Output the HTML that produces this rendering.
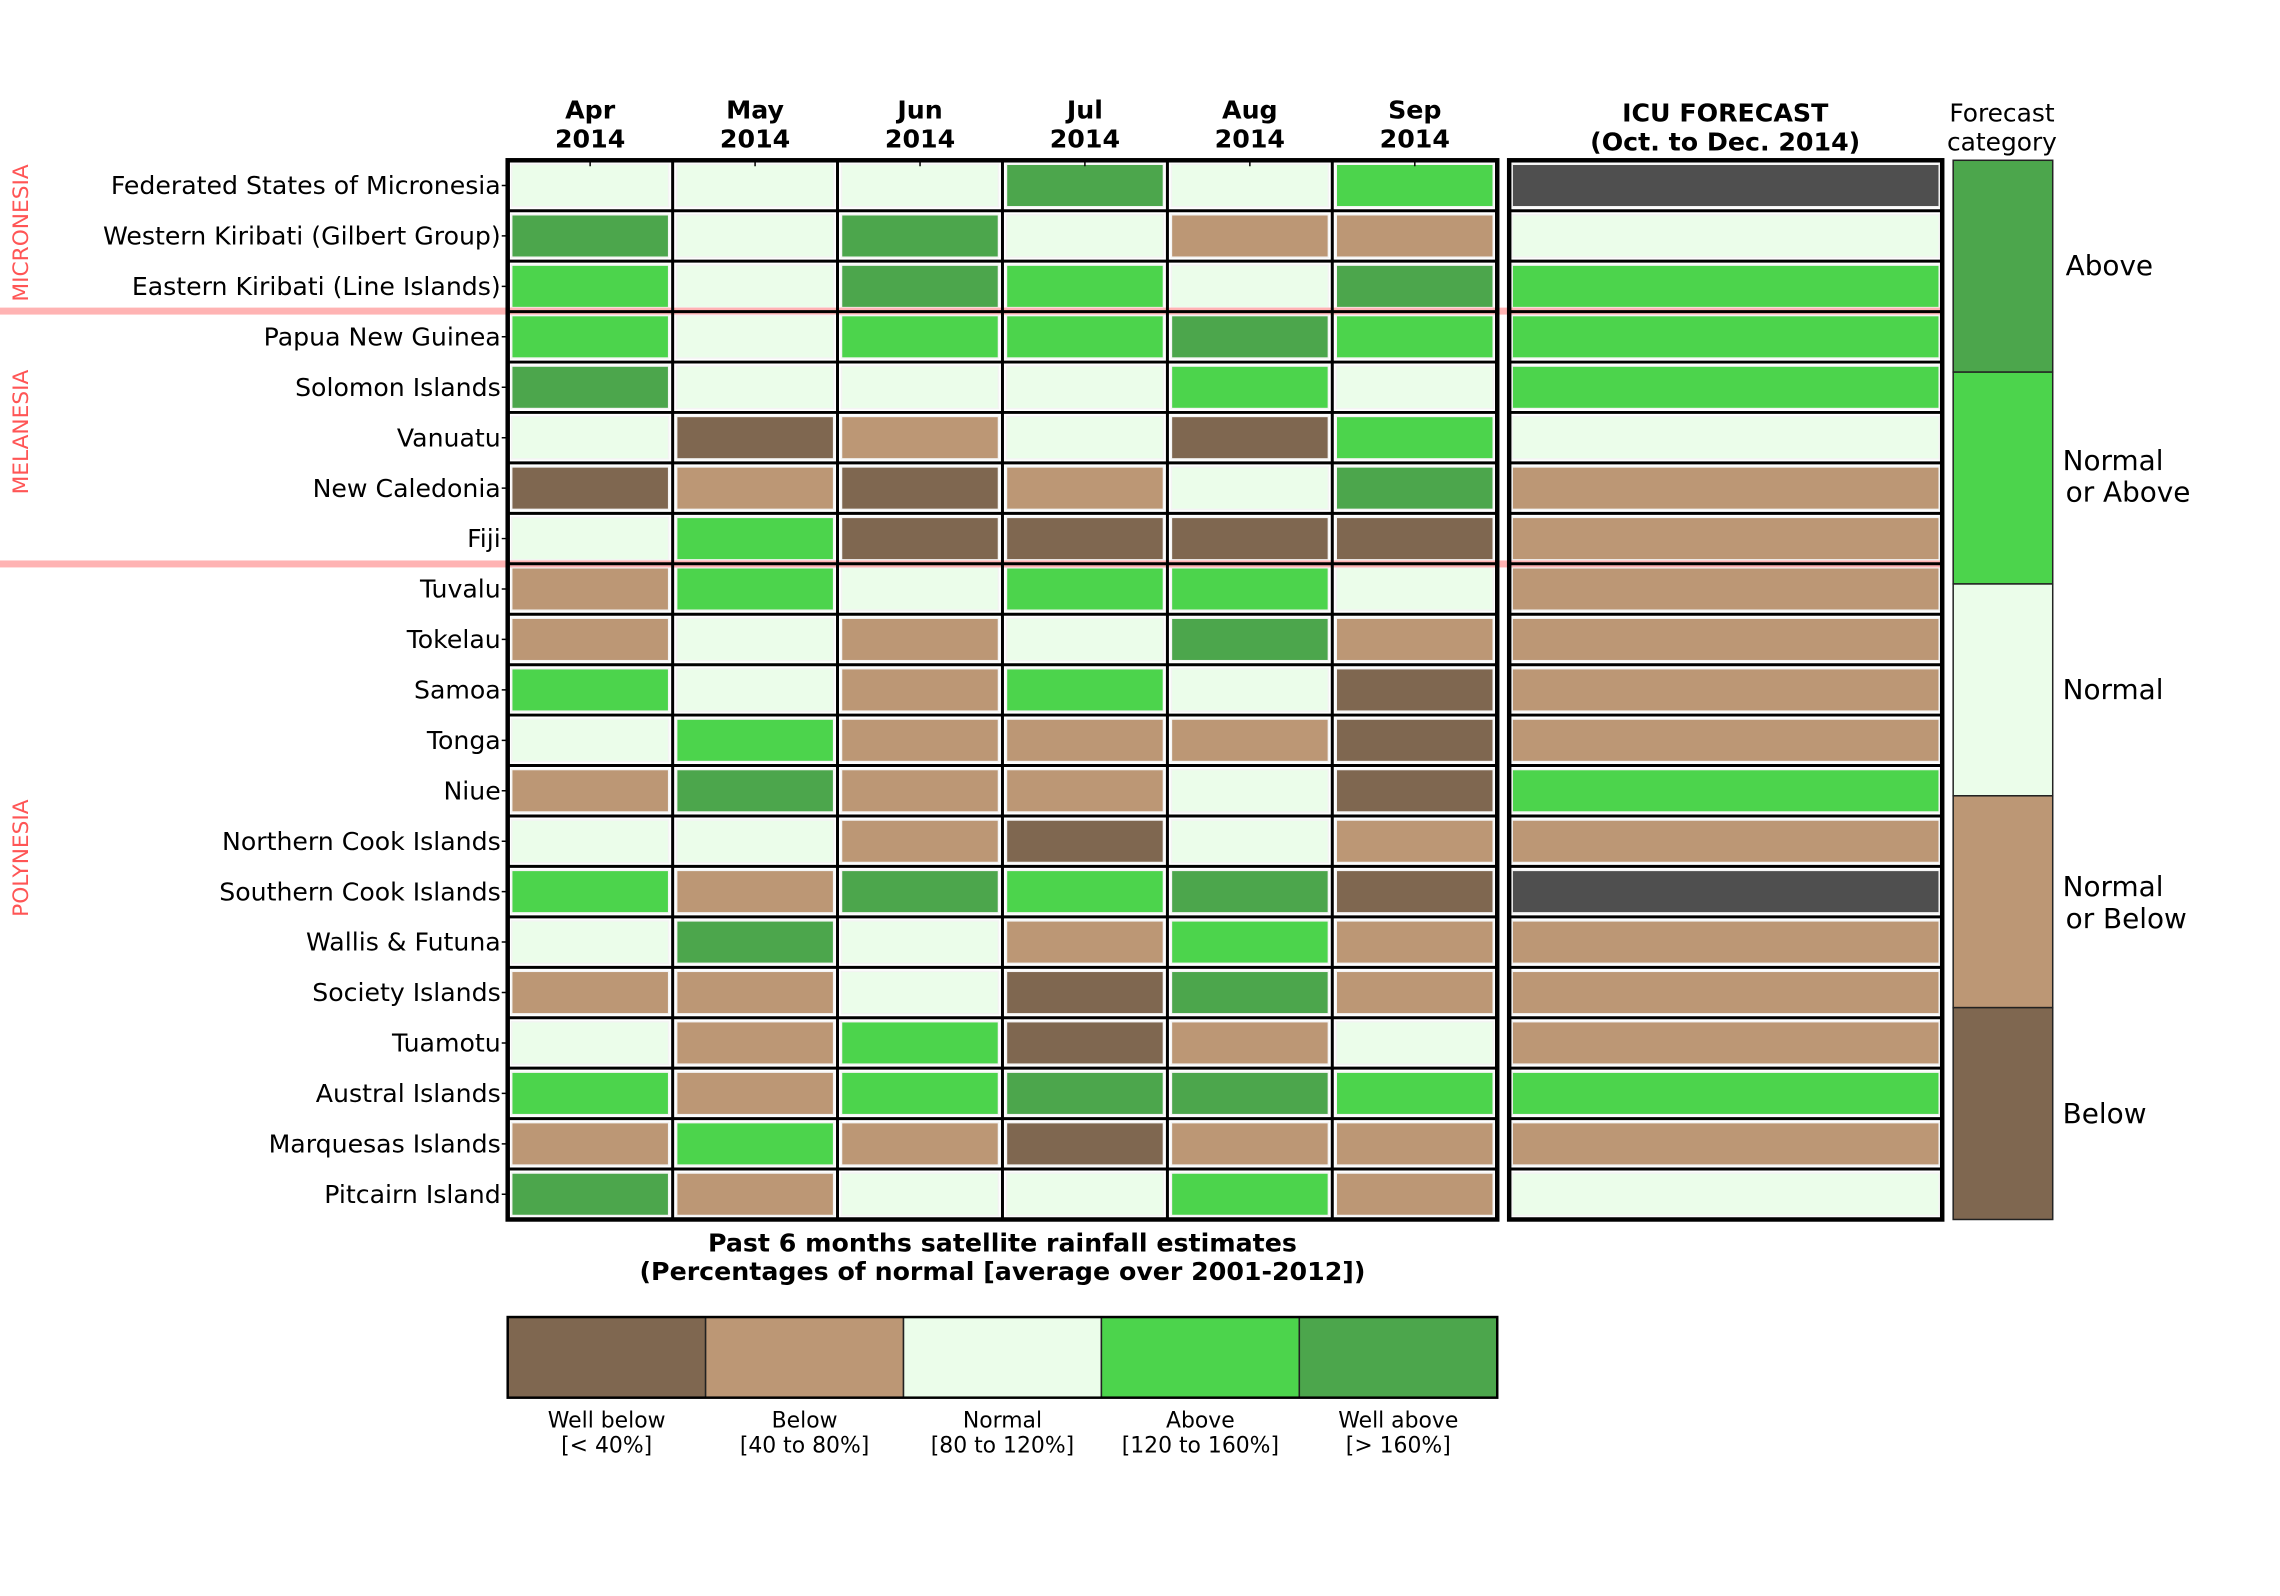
<!DOCTYPE html>
<html><head><style>
body{margin:0;background:#fff}
svg{display:block;font-family:"DejaVu Sans","Liberation Sans",sans-serif}
.W{fill:#7f6750}.B{fill:#bc9775}.N{fill:#ebfdea}.A{fill:#4cd44c}.V{fill:#4ca64c}.G{fill:#4f4f4f}
.c rect{stroke:#f4f4f4;stroke-width:1.5}
.lab{font-size:25.3px;text-anchor:end}
</style></head><body>
<svg width="2280" height="1596" viewBox="0 0 2280 1596" xmlns="http://www.w3.org/2000/svg">
<rect width="2280" height="1596" fill="#fff"/>
<g transform="scale(0.9955)">
<rect x="510" y="161" width="994" height="1064" fill="#fff"/>
<g class="c">
<g transform="translate(0,165)"><rect class="N" x="514" width="157.7" height="42.7"/><rect class="N" x="679.7" width="157.7" height="42.7"/><rect class="N" x="845.3" width="157.7" height="42.7"/><rect class="V" x="1011" width="157.7" height="42.7"/><rect class="N" x="1176.7" width="157.7" height="42.7"/><rect class="A" x="1342.3" width="157.7" height="42.7"/><rect class="G" x="1519" width="429" height="42.7"/></g>
<g transform="translate(0,215.7)"><rect class="V" x="514" width="157.7" height="42.7"/><rect class="N" x="679.7" width="157.7" height="42.7"/><rect class="V" x="845.3" width="157.7" height="42.7"/><rect class="N" x="1011" width="157.7" height="42.7"/><rect class="B" x="1176.7" width="157.7" height="42.7"/><rect class="B" x="1342.3" width="157.7" height="42.7"/><rect class="N" x="1519" width="429" height="42.7"/></g>
<g transform="translate(0,266.3)"><rect class="A" x="514" width="157.7" height="42.7"/><rect class="N" x="679.7" width="157.7" height="42.7"/><rect class="V" x="845.3" width="157.7" height="42.7"/><rect class="A" x="1011" width="157.7" height="42.7"/><rect class="N" x="1176.7" width="157.7" height="42.7"/><rect class="V" x="1342.3" width="157.7" height="42.7"/><rect class="A" x="1519" width="429" height="42.7"/></g>
<g transform="translate(0,317)"><rect class="A" x="514" width="157.7" height="42.7"/><rect class="N" x="679.7" width="157.7" height="42.7"/><rect class="A" x="845.3" width="157.7" height="42.7"/><rect class="A" x="1011" width="157.7" height="42.7"/><rect class="V" x="1176.7" width="157.7" height="42.7"/><rect class="A" x="1342.3" width="157.7" height="42.7"/><rect class="A" x="1519" width="429" height="42.7"/></g>
<g transform="translate(0,367.7)"><rect class="V" x="514" width="157.7" height="42.7"/><rect class="N" x="679.7" width="157.7" height="42.7"/><rect class="N" x="845.3" width="157.7" height="42.7"/><rect class="N" x="1011" width="157.7" height="42.7"/><rect class="A" x="1176.7" width="157.7" height="42.7"/><rect class="N" x="1342.3" width="157.7" height="42.7"/><rect class="A" x="1519" width="429" height="42.7"/></g>
<g transform="translate(0,418.3)"><rect class="N" x="514" width="157.7" height="42.7"/><rect class="W" x="679.7" width="157.7" height="42.7"/><rect class="B" x="845.3" width="157.7" height="42.7"/><rect class="N" x="1011" width="157.7" height="42.7"/><rect class="W" x="1176.7" width="157.7" height="42.7"/><rect class="A" x="1342.3" width="157.7" height="42.7"/><rect class="N" x="1519" width="429" height="42.7"/></g>
<g transform="translate(0,469)"><rect class="W" x="514" width="157.7" height="42.7"/><rect class="B" x="679.7" width="157.7" height="42.7"/><rect class="W" x="845.3" width="157.7" height="42.7"/><rect class="B" x="1011" width="157.7" height="42.7"/><rect class="N" x="1176.7" width="157.7" height="42.7"/><rect class="V" x="1342.3" width="157.7" height="42.7"/><rect class="B" x="1519" width="429" height="42.7"/></g>
<g transform="translate(0,519.7)"><rect class="N" x="514" width="157.7" height="42.7"/><rect class="A" x="679.7" width="157.7" height="42.7"/><rect class="W" x="845.3" width="157.7" height="42.7"/><rect class="W" x="1011" width="157.7" height="42.7"/><rect class="W" x="1176.7" width="157.7" height="42.7"/><rect class="W" x="1342.3" width="157.7" height="42.7"/><rect class="B" x="1519" width="429" height="42.7"/></g>
<g transform="translate(0,570.3)"><rect class="B" x="514" width="157.7" height="42.7"/><rect class="A" x="679.7" width="157.7" height="42.7"/><rect class="N" x="845.3" width="157.7" height="42.7"/><rect class="A" x="1011" width="157.7" height="42.7"/><rect class="A" x="1176.7" width="157.7" height="42.7"/><rect class="N" x="1342.3" width="157.7" height="42.7"/><rect class="B" x="1519" width="429" height="42.7"/></g>
<g transform="translate(0,621)"><rect class="B" x="514" width="157.7" height="42.7"/><rect class="N" x="679.7" width="157.7" height="42.7"/><rect class="B" x="845.3" width="157.7" height="42.7"/><rect class="N" x="1011" width="157.7" height="42.7"/><rect class="V" x="1176.7" width="157.7" height="42.7"/><rect class="B" x="1342.3" width="157.7" height="42.7"/><rect class="B" x="1519" width="429" height="42.7"/></g>
<g transform="translate(0,671.7)"><rect class="A" x="514" width="157.7" height="42.7"/><rect class="N" x="679.7" width="157.7" height="42.7"/><rect class="B" x="845.3" width="157.7" height="42.7"/><rect class="A" x="1011" width="157.7" height="42.7"/><rect class="N" x="1176.7" width="157.7" height="42.7"/><rect class="W" x="1342.3" width="157.7" height="42.7"/><rect class="B" x="1519" width="429" height="42.7"/></g>
<g transform="translate(0,722.3)"><rect class="N" x="514" width="157.7" height="42.7"/><rect class="A" x="679.7" width="157.7" height="42.7"/><rect class="B" x="845.3" width="157.7" height="42.7"/><rect class="B" x="1011" width="157.7" height="42.7"/><rect class="B" x="1176.7" width="157.7" height="42.7"/><rect class="W" x="1342.3" width="157.7" height="42.7"/><rect class="B" x="1519" width="429" height="42.7"/></g>
<g transform="translate(0,773)"><rect class="B" x="514" width="157.7" height="42.7"/><rect class="V" x="679.7" width="157.7" height="42.7"/><rect class="B" x="845.3" width="157.7" height="42.7"/><rect class="B" x="1011" width="157.7" height="42.7"/><rect class="N" x="1176.7" width="157.7" height="42.7"/><rect class="W" x="1342.3" width="157.7" height="42.7"/><rect class="A" x="1519" width="429" height="42.7"/></g>
<g transform="translate(0,823.7)"><rect class="N" x="514" width="157.7" height="42.7"/><rect class="N" x="679.7" width="157.7" height="42.7"/><rect class="B" x="845.3" width="157.7" height="42.7"/><rect class="W" x="1011" width="157.7" height="42.7"/><rect class="N" x="1176.7" width="157.7" height="42.7"/><rect class="B" x="1342.3" width="157.7" height="42.7"/><rect class="B" x="1519" width="429" height="42.7"/></g>
<g transform="translate(0,874.3)"><rect class="A" x="514" width="157.7" height="42.7"/><rect class="B" x="679.7" width="157.7" height="42.7"/><rect class="V" x="845.3" width="157.7" height="42.7"/><rect class="A" x="1011" width="157.7" height="42.7"/><rect class="V" x="1176.7" width="157.7" height="42.7"/><rect class="W" x="1342.3" width="157.7" height="42.7"/><rect class="G" x="1519" width="429" height="42.7"/></g>
<g transform="translate(0,925)"><rect class="N" x="514" width="157.7" height="42.7"/><rect class="V" x="679.7" width="157.7" height="42.7"/><rect class="N" x="845.3" width="157.7" height="42.7"/><rect class="B" x="1011" width="157.7" height="42.7"/><rect class="A" x="1176.7" width="157.7" height="42.7"/><rect class="B" x="1342.3" width="157.7" height="42.7"/><rect class="B" x="1519" width="429" height="42.7"/></g>
<g transform="translate(0,975.7)"><rect class="B" x="514" width="157.7" height="42.7"/><rect class="B" x="679.7" width="157.7" height="42.7"/><rect class="N" x="845.3" width="157.7" height="42.7"/><rect class="W" x="1011" width="157.7" height="42.7"/><rect class="V" x="1176.7" width="157.7" height="42.7"/><rect class="B" x="1342.3" width="157.7" height="42.7"/><rect class="B" x="1519" width="429" height="42.7"/></g>
<g transform="translate(0,1026.3)"><rect class="N" x="514" width="157.7" height="42.7"/><rect class="B" x="679.7" width="157.7" height="42.7"/><rect class="A" x="845.3" width="157.7" height="42.7"/><rect class="W" x="1011" width="157.7" height="42.7"/><rect class="B" x="1176.7" width="157.7" height="42.7"/><rect class="N" x="1342.3" width="157.7" height="42.7"/><rect class="B" x="1519" width="429" height="42.7"/></g>
<g transform="translate(0,1077)"><rect class="A" x="514" width="157.7" height="42.7"/><rect class="B" x="679.7" width="157.7" height="42.7"/><rect class="A" x="845.3" width="157.7" height="42.7"/><rect class="V" x="1011" width="157.7" height="42.7"/><rect class="V" x="1176.7" width="157.7" height="42.7"/><rect class="A" x="1342.3" width="157.7" height="42.7"/><rect class="A" x="1519" width="429" height="42.7"/></g>
<g transform="translate(0,1127.7)"><rect class="B" x="514" width="157.7" height="42.7"/><rect class="A" x="679.7" width="157.7" height="42.7"/><rect class="B" x="845.3" width="157.7" height="42.7"/><rect class="W" x="1011" width="157.7" height="42.7"/><rect class="B" x="1176.7" width="157.7" height="42.7"/><rect class="B" x="1342.3" width="157.7" height="42.7"/><rect class="B" x="1519" width="429" height="42.7"/></g>
<g transform="translate(0,1178.3)"><rect class="V" x="514" width="157.7" height="42.7"/><rect class="B" x="679.7" width="157.7" height="42.7"/><rect class="N" x="845.3" width="157.7" height="42.7"/><rect class="N" x="1011" width="157.7" height="42.7"/><rect class="A" x="1176.7" width="157.7" height="42.7"/><rect class="B" x="1342.3" width="157.7" height="42.7"/><rect class="N" x="1519" width="429" height="42.7"/></g>
</g>
<rect x="0" y="309" width="1953" height="7" fill="#ffb3b3"/>
<rect x="0" y="563" width="1953" height="7" fill="#ffb3b3"/>
<g stroke="#000" stroke-width="3" fill="none">
<path d="M510 211.7H1504M510 262.3H1504M510 313H1504M510 363.7H1504M510 414.3H1504M510 465H1504M510 515.7H1504M510 566.3H1504M510 617H1504M510 667.7H1504M510 718.3H1504M510 769H1504M510 819.7H1504M510 870.3H1504M510 921H1504M510 971.7H1504M510 1022.3H1504M510 1073H1504M510 1123.7H1504M510 1174.3H1504"/>
<path d="M1516 211.7H1951M1516 262.3H1951M1516 313H1951M1516 363.7H1951M1516 414.3H1951M1516 465H1951M1516 515.7H1951M1516 566.3H1951M1516 617H1951M1516 667.7H1951M1516 718.3H1951M1516 769H1951M1516 819.7H1951M1516 870.3H1951M1516 921H1951M1516 971.7H1951M1516 1022.3H1951M1516 1073H1951M1516 1123.7H1951M1516 1174.3H1951"/>
<path d="M675.7 161V1225M841.3 161V1225M1007 161V1225M1172.7 161V1225M1338.3 161V1225"/>
</g>
<g stroke="#000" stroke-width="4.5" fill="none">
<rect x="510" y="161" width="994" height="1064"/>
<rect x="1516" y="161" width="435" height="1064"/>
</g>
<g stroke="#000" stroke-width="1.5">
<path d="M504 186.3h6M504 237h6M504 287.7h6M504 338.3h6M504 389h6M504 439.7h6M504 490.3h6M504 541h6M504 591.7h6M504 642.3h6M504 693h6M504 743.7h6M504 794.3h6M504 845h6M504 895.7h6M504 946.3h6M504 997h6M504 1047.7h6M504 1098.3h6M504 1149h6M504 1199.7h6"/>
<path d="M592.8 161v6M758.5 161v6M924.2 161v6M1089.8 161v6M1255.5 161v6M1421.2 161v6"/>
</g>
<g class="lab">
<text x="503" y="195">Federated States of Micronesia</text>
<text x="503" y="245.7">Western Kiribati (Gilbert Group)</text>
<text x="503" y="296.4">Eastern Kiribati (Line Islands)</text>
<text x="503" y="347">Papua New Guinea</text>
<text x="503" y="397.7">Solomon Islands</text>
<text x="503" y="448.4">Vanuatu</text>
<text x="503" y="499">New Caledonia</text>
<text x="503" y="549.7">Fiji</text>
<text x="503" y="600.4">Tuvalu</text>
<text x="503" y="651">Tokelau</text>
<text x="503" y="701.7">Samoa</text>
<text x="503" y="752.4">Tonga</text>
<text x="503" y="803">Niue</text>
<text x="503" y="853.7">Northern Cook Islands</text>
<text x="503" y="904.4">Southern Cook Islands</text>
<text x="503" y="955">Wallis &amp; Futuna</text>
<text x="503" y="1005.7">Society Islands</text>
<text x="503" y="1056.4">Tuamotu</text>
<text x="503" y="1107">Austral Islands</text>
<text x="503" y="1157.7">Marquesas Islands</text>
<text x="503" y="1208.4">Pitcairn Island</text>
</g>
<g fill="#ff5555" font-size="21.8" text-anchor="middle">
<text transform="translate(28,234) rotate(-90)">MICRONESIA</text>
<text transform="translate(28,434) rotate(-90)">MELANESIA</text>
<text transform="translate(28,862) rotate(-90)">POLYNESIA</text>
</g>
<g font-size="25.4" font-weight="bold" text-anchor="middle">
<text x="592.8" y="119">Apr</text><text x="592.8" y="148">2014</text>
<text x="758.5" y="119">May</text><text x="758.5" y="148">2014</text>
<text x="924.2" y="119">Jun</text><text x="924.2" y="148">2014</text>
<text x="1089.8" y="119">Jul</text><text x="1089.8" y="148">2014</text>
<text x="1255.5" y="119">Aug</text><text x="1255.5" y="148">2014</text>
<text x="1421.2" y="119">Sep</text><text x="1421.2" y="148">2014</text>
<text x="1733" y="122">ICU FORECAST</text><text x="1733" y="151">(Oct. to Dec. 2014)</text>
<text x="1007" y="1257">Past 6 months satellite rainfall estimates</text>
<text x="1007" y="1286">(Percentages of normal [average over 2001-2012])</text>
</g>
<g font-size="25" text-anchor="middle">
<text x="2011" y="122">Forecast</text><text x="2011" y="151">category</text>
</g>
<g stroke="#222" stroke-width="1.5">
<rect class="V" x="1962" y="161" width="100" height="212.8"/>
<rect class="A" x="1962" y="373.8" width="100" height="212.8"/>
<rect class="N" x="1962" y="586.6" width="100" height="212.8"/>
<rect class="B" x="1962" y="799.4" width="100" height="212.8"/>
<rect class="W" x="1962" y="1012.2" width="100" height="212.8"/>
</g>
<g font-size="28">
<text x="2075" y="276">Above</text>
<text x="2072" y="472">Normal</text><text x="2075" y="504">or Above</text>
<text x="2072" y="702">Normal</text>
<text x="2072" y="900">Normal</text><text x="2075" y="932">or Below</text>
<text x="2072" y="1128">Below</text>
</g>
<g stroke="#222" stroke-width="1.5">
<rect class="W" x="510" y="1323" width="198.8" height="81"/>
<rect class="B" x="708.8" y="1323" width="198.8" height="81"/>
<rect class="N" x="907.6" y="1323" width="198.8" height="81"/>
<rect class="A" x="1106.4" y="1323" width="198.8" height="81"/>
<rect class="V" x="1305.2" y="1323" width="198.8" height="81"/>
</g>
<rect x="510" y="1323" width="994" height="81" fill="none" stroke="#000" stroke-width="2.5"/>
<g font-size="22" text-anchor="middle">
<text x="609.4" y="1434">Well below</text><text x="609.4" y="1459">[&lt; 40%]</text>
<text x="808.2" y="1434">Below</text><text x="808.2" y="1459">[40 to 80%]</text>
<text x="1007" y="1434">Normal</text><text x="1007" y="1459">[80 to 120%]</text>
<text x="1205.8" y="1434">Above</text><text x="1205.8" y="1459">[120 to 160%]</text>
<text x="1404.6" y="1434">Well above</text><text x="1404.6" y="1459">[&gt; 160%]</text>
</g>
</g>
</svg>
</body></html>
